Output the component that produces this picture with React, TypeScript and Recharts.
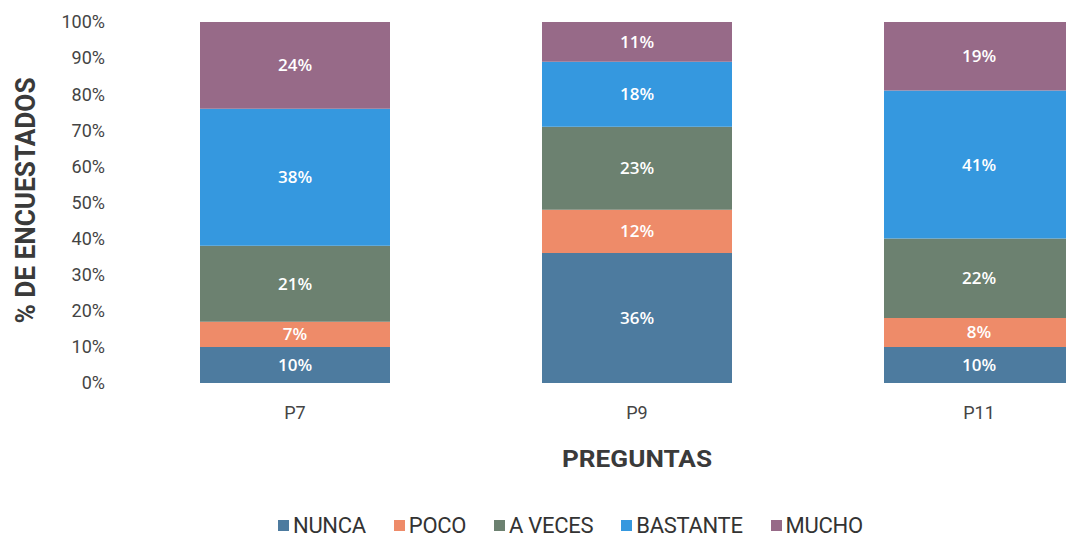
import { Bar, BarChart, LabelList, XAxis, YAxis } from 'recharts';

const PREGUNTAS = ['P7', 'P9', 'P11'];
const NUNCA = [10, 36, 10];
const POCO = [7, 12, 8];
const A_VECES = [21, 23, 22];
const BASTANTE = [38, 18, 41];
const MUCHO = [24, 11, 19];
const Y_TICKS = [0, 10, 20, 30, 40, 50, 60, 70, 80, 90, 100];

const SERIES = [
  { key: 'nunca', name: 'NUNCA', values: NUNCA, color: '#4d7b9f' },
  { key: 'poco', name: 'POCO', values: POCO, color: '#ee8b69' },
  { key: 'aveces', name: 'A VECES', values: A_VECES, color: '#6c8170' },
  { key: 'bastante', name: 'BASTANTE', values: BASTANTE, color: '#3598df' },
  { key: 'mucho', name: 'MUCHO', values: MUCHO, color: '#976a88' },
];

const data = PREGUNTAS.map((p, i) => {
  const row: Record<string, string | number> = { name: p };
  SERIES.forEach((s) => {
    row[s.key] = s.values[i];
  });
  return row;
});

const AXIS_FONT = 'Roboto, "Liberation Sans", sans-serif';

// condensed bold titles, squeezed with textLength since no condensed font is installed
const YTitle = ({ viewBox }: any) => {
  const cy = viewBox.y + viewBox.height / 2 - 2;
  return (
    <text
      x={35}
      y={cy}
      transform={`rotate(-90 35 ${cy})`}
      textAnchor="middle"
      textLength={246}
      lengthAdjust="spacingAndGlyphs"
      fill="#3a3a3a"
      fontSize={28}
      fontWeight={700}
      fontFamily={AXIS_FONT}
    >
      % DE ENCUESTADOS
    </text>
  );
};

const XTitle = ({ viewBox }: any) => (
  <text
    x={viewBox.x + viewBox.width / 2}
    y={viewBox.y + 84}
    textAnchor="middle"
    textLength={150}
    lengthAdjust="spacingAndGlyphs"
    fill="#3a3a3a"
    fontSize={24}
    fontWeight={700}
    fontFamily={AXIS_FONT}
  >
    PREGUNTAS
  </text>
);

export default function App() {
  return (
    <div style={{ position: 'relative', width: 1066, height: 544, overflow: 'hidden', background: '#fff' }}>
      <style>{`body{margin:0;overflow:hidden}`}</style>
      <BarChart
        width={1160}
        height={544}
        data={data}
        margin={{ top: 22, right: 10, left: 0, bottom: 0 }}
        barSize={190}
      >
        <XAxis
          dataKey="name"
          height={161}
          axisLine={false}
          tickLine={false}
          tickMargin={17}
          tick={{ fontSize: 18, fill: '#444', fontFamily: AXIS_FONT }}
          label={<XTitle />}
        />
        <YAxis
          width={124}
          domain={[0, 100]}
          ticks={Y_TICKS}
          interval={0}
          axisLine={false}
          tickLine={false}
          tickMargin={13}
          tickFormatter={(v) => `${v}%`}
          tick={{ fontSize: 18, fill: '#444', fontFamily: AXIS_FONT }}
          label={<YTitle />}
        />
        {SERIES.map((s) => (
          <Bar key={s.key} dataKey={s.key} name={s.name} stackId="a" fill={s.color} isAnimationActive={false}>
            <LabelList
              dataKey={s.key}
              position="center"
              formatter={(v: number) => `${v}%`}
              fill="#fff"
              fontSize={17}
              fontWeight={600}
              fontFamily='"Open Sans", sans-serif'
            />
          </Bar>
        ))}
      </BarChart>
      <div
        style={{
          position: 'absolute',
          top: 513,
          left: 278,
          display: 'flex',
          alignItems: 'center',
          gap: 28,
          fontFamily: AXIS_FONT,
          fontSize: 22,
          color: '#333',
          letterSpacing: -0.3,
        }}
      >
        {SERIES.map((s) => (
          <div key={s.key} style={{ display: 'flex', alignItems: 'center' }}>
            <span style={{ display: 'inline-block', width: 11, height: 11, background: s.color, marginRight: 4 }} />
            <span>{s.name}</span>
          </div>
        ))}
      </div>
    </div>
  );
}
